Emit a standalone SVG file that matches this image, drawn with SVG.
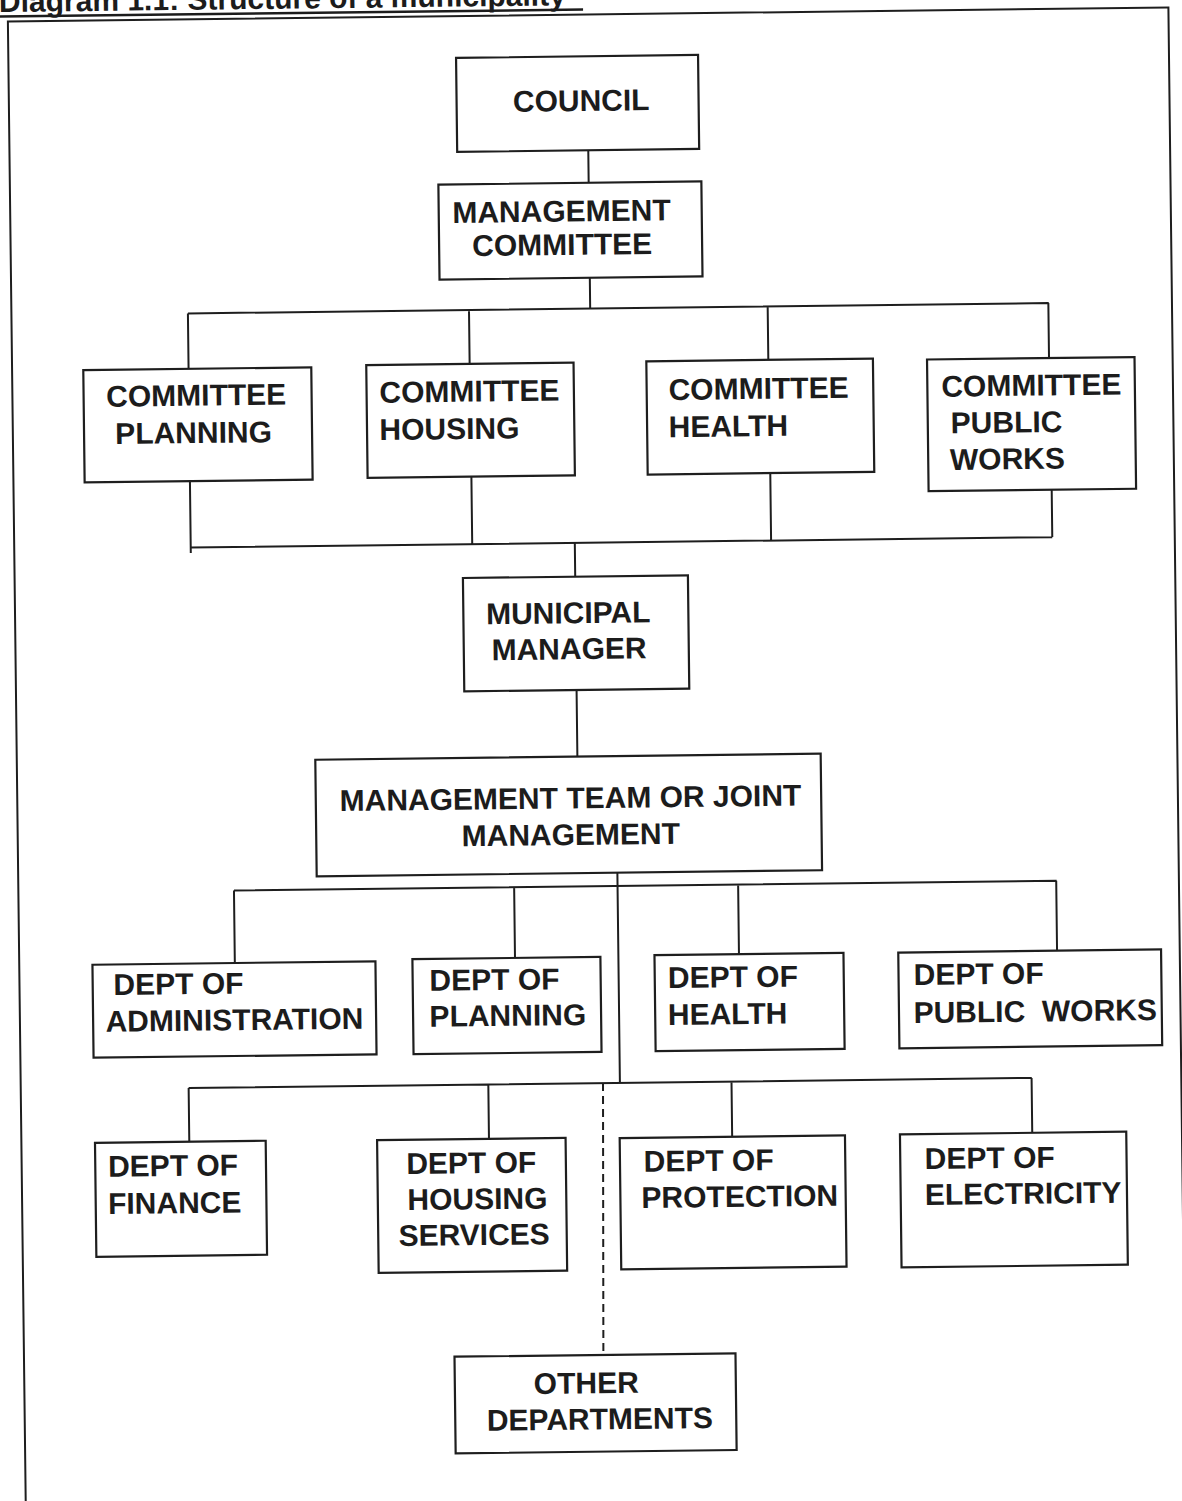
<svg xmlns="http://www.w3.org/2000/svg" width="1182" height="1501" viewBox="0 0 1182 1501">
  <style>
    .box { fill: #ffffff; stroke: #1e1e1e; stroke-width: 2.2; }
    .wire { fill: none; stroke: #1e1e1e; stroke-width: 2; }
    .dash { fill: none; stroke: #1e1e1e; stroke-width: 2; stroke-dasharray: 8 5; }
    .t { font-family: "Liberation Sans", Arial, sans-serif; font-weight: bold; font-size: 30px; fill: #1c1c1c; }
    .mid { text-anchor: middle; }
    .title { font-family: "Liberation Sans", Arial, sans-serif; font-weight: bold; font-size: 30px; fill: #1c1c1c; }
  </style>
  <rect width="1182" height="1501" fill="#ffffff"/>
  <!-- the whole page sits slightly turned -->
  <g transform="rotate(-0.69 591 750)">
    <g id="title">
      <text class="title" x="8" y="5">Diagram 1.1: Structure of a municipality</text>
      <line x1="8" y1="9.5" x2="592" y2="9.5" stroke="#1c1c1c" stroke-width="2.5"/>
    </g>
    <rect id="frame" x="16.7" y="14.5" width="1160.6" height="1600" fill="none" stroke="#1e1e1e" stroke-width="2"/>

    <g id="connectors">
      <path class="wire" d="M595.5 150.3 V182.8 M595.5 277.8 V308.6"/>
      <path class="wire" d="M193.2 308.6 H1054.1 M193.2 308.6 V364 M474.3 308.6 V362.5 M773 308.6 V362 M1053.7 308.6 V363.6"/>
      <path class="wire" d="M193.2 476.3 V548.2 M474.7 475.2 V542.7 M773.6 475.3 V542.7 M1054.8 495.3 V542.7 M192.8 542.7 H1054.8"/>
      <path class="wire" d="M577.3 542.7 V576.5 M577.3 689.8 V756.4 M615.9 873 V1083.2"/>
      <path class="wire" d="M232.3 886.3 H1055 M232.3 886.3 V958.7 M512.5 886.3 V957 M736.5 886.3 V955.9 M1054.6 886.3 V956.3"/>
      <path class="wire" d="M184.6 1083.2 H1027.8 M184.6 1083.2 V1136.8 M484.3 1083.2 V1137.6 M727.5 1083.2 V1138.4 M1027.6 1083.2 V1138.1"/>
      <path class="dash" d="M599 1083.2 L596 1364"/>
    </g>

    <g id="council">
      <rect class="box" x="464.4" y="56.3" width="242" height="94"/>
      <text class="t mid" x="589" y="110.9">COUNCIL</text>
    </g>
    <g id="management-committee">
      <rect class="box" x="445.2" y="182.8" width="263" height="95"/>
      <text class="t mid" x="568" y="221.3">MANAGEMENT</text>
      <text class="t mid" x="568.3" y="254.7">COMMITTEE</text>
    </g>

    <g id="committee-planning">
      <rect class="box" x="87.9" y="364" width="228" height="112.3"/>
      <text class="t" x="110.5" y="400.9">COMMITTEE</text>
      <text class="t" x="119.1" y="438.3">PLANNING</text>
    </g>
    <g id="committee-housing">
      <rect class="box" x="370.9" y="362.5" width="207.3" height="112.7"/>
      <text class="t" x="383.8" y="400.2">COMMITTEE</text>
      <text class="t" x="383.3" y="437.5">HOUSING</text>
    </g>
    <g id="committee-health">
      <rect class="box" x="651" y="362" width="226.6" height="113.3"/>
      <text class="t" x="672.9" y="400.9">COMMITTEE</text>
      <text class="t" x="672.5" y="438.2">HEALTH</text>
    </g>
    <g id="committee-public-works">
      <rect class="box" x="931.7" y="363.6" width="207.5" height="131.7"/>
      <text class="t" x="945.7" y="400.9">COMMITTEE</text>
      <text class="t" x="954.6" y="437.6">PUBLIC</text>
      <text class="t" x="953.4" y="474.3">WORKS</text>
    </g>

    <g id="municipal-manager">
      <rect class="box" x="465" y="576.5" width="225" height="113.3"/>
      <text class="t mid" x="569.9" y="623">MUNICIPAL</text>
      <text class="t mid" x="570.3" y="659">MANAGER</text>
    </g>
    <g id="management-team">
      <rect class="box" x="315.2" y="756.4" width="505.4" height="116.6"/>
      <text class="t mid" x="569.9" y="808.1">MANAGEMENT TEAM OR JOINT</text>
      <text class="t mid" x="569.8" y="844.8">MANAGEMENT</text>
    </g>

    <g id="dept-administration">
      <rect class="box" x="89.9" y="958.7" width="283" height="93"/>
      <text class="t" x="110.7" y="989.3">DEPT OF</text>
      <text class="t" x="102.3" y="1025.9">ADMINISTRATION</text>
    </g>
    <g id="dept-planning">
      <rect class="box" x="409.9" y="957" width="188" height="95"/>
      <text class="t" x="426.7" y="988.8">DEPT OF</text>
      <text class="t" x="426.3" y="1024.8">PLANNING</text>
    </g>
    <g id="dept-health">
      <rect class="box" x="652" y="955.9" width="189" height="96"/>
      <text class="t" x="665.1" y="988.9">DEPT OF</text>
      <text class="t" x="664.7" y="1025.9">HEALTH</text>
    </g>
    <g id="dept-public-works">
      <rect class="box" x="895.8" y="956.3" width="262.8" height="95.7"/>
      <text class="t" x="910.9" y="988.9">DEPT OF</text>
      <text class="t" x="910.4" y="1026.9" xml:space="preserve">PUBLIC  WORKS</text>
    </g>

    <g id="dept-finance">
      <rect class="box" x="90.3" y="1136.8" width="170.7" height="114"/>
      <text class="t" x="103.1" y="1170.9">DEPT OF</text>
      <text class="t" x="102.6" y="1208.2">FINANCE</text>
    </g>
    <g id="dept-housing-services">
      <rect class="box" x="372.4" y="1137.6" width="188.5" height="132.7"/>
      <text class="t" x="401.3" y="1171.8">DEPT OF</text>
      <text class="t" x="402" y="1207.8">HOUSING</text>
      <text class="t" x="392.7" y="1243.7">SERVICES</text>
    </g>
    <g id="dept-protection">
      <rect class="box" x="615" y="1138.4" width="225.3" height="131.3"/>
      <text class="t" x="638.7" y="1172.3">DEPT OF</text>
      <text class="t" x="636.1" y="1208.6">PROTECTION</text>
    </g>
    <g id="dept-electricity">
      <rect class="box" x="895.3" y="1138.1" width="226.3" height="133"/>
      <text class="t" x="919.8" y="1173">DEPT OF</text>
      <text class="t" x="919.4" y="1209">ELECTRICITY</text>
    </g>

    <g id="other-departments">
      <rect class="box" x="447.2" y="1355" width="281" height="96.7"/>
      <text class="t mid" x="578.6" y="1393.2">OTHER</text>
      <text class="t mid" x="591.8" y="1429.4">DEPARTMENTS</text>
    </g>
  </g>
</svg>
